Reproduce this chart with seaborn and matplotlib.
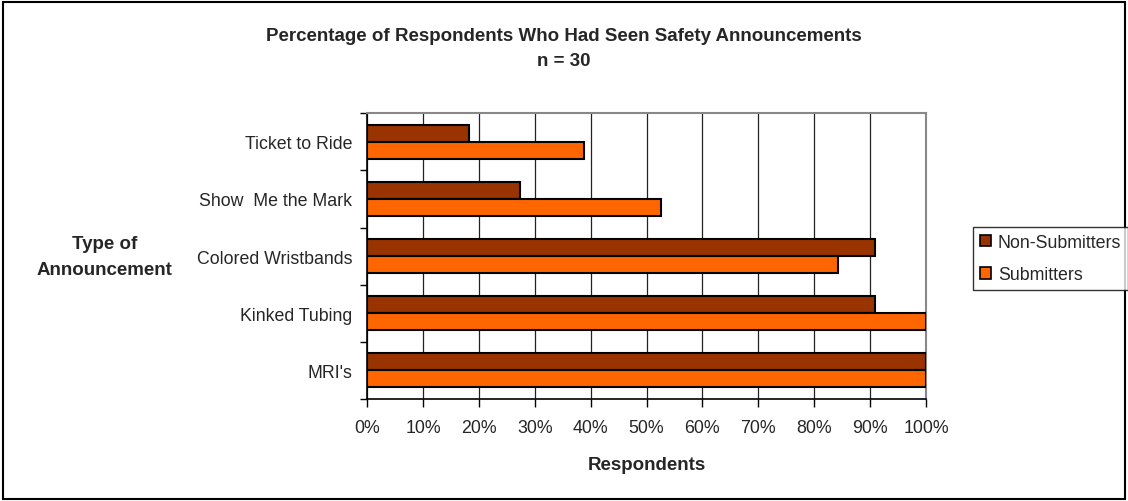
import matplotlib
matplotlib.use("Agg")
import matplotlib.pyplot as plt
import seaborn as sns
import pandas as pd
from matplotlib.patches import Rectangle, Patch
from matplotlib.ticker import FixedLocator, FuncFormatter

categories = ["Ticket to Ride", "Show  Me the Mark", "Colored Wristbands", "Kinked Tubing", "MRI's"]
non_submitters = [18.2, 27.3, 90.9, 90.9, 100.0]
submitters = [38.9, 52.6, 84.2, 100.0, 100.0]
series_names = ["Non-Submitters", "Submitters"]
colors = ["#993300", "#FF6600"]

rows = []
for c, a, b in zip(categories, non_submitters, submitters):
    rows.append({"cat": c, "series": series_names[0], "val": a})
    rows.append({"cat": c, "series": series_names[1], "val": b})
df = pd.DataFrame(rows)

sns.set_style("white")
plt.rcParams["font.family"] = ["Liberation Sans", "DejaVu Sans"]

FS = 12.8
BFS = 13.5

fig = plt.figure(figsize=(11.28, 5.02), dpi=100)
ax = fig.add_axes([0.3254, 0.204, 0.8209 - 0.3254, 0.772 - 0.204])

sns.barplot(data=df, y="cat", x="val", hue="series", order=categories,
            hue_order=series_names, palette=colors, orient="h", width=0.6,
            gap=0, edgecolor="black", linewidth=1.5, ax=ax, legend=False,
            saturation=1, errorbar=None, zorder=3)

ax.set_xlim(0, 100)
ax.set_ylim(len(categories) - 0.5, -0.5)
ax.xaxis.set_major_locator(FixedLocator(list(range(0, 101, 10))))
ax.xaxis.set_major_formatter(FuncFormatter(lambda v, p: f"{int(v)}%"))
ax.grid(axis="x", color="#222222", linewidth=0.9, zorder=0)
ax.set_axisbelow(True)

ax.set_yticks(range(len(categories)))
ax.set_yticklabels(categories)
ax.yaxis.set_minor_locator(FixedLocator([i - 0.5 for i in range(len(categories) + 1)]))
ax.tick_params(axis="y", which="major", length=0, pad=10.5, labelsize=FS)
ax.tick_params(axis="y", which="minor", length=5, width=1, color="black", left=True)
ax.tick_params(axis="x", which="major", length=6, width=1, color="black", bottom=True,
               direction="out", pad=9, labelsize=FS)

for s in ["left", "bottom"]:
    ax.spines[s].set_color("black")
    ax.spines[s].set_linewidth(1.2)
for s in ["top", "right"]:
    ax.spines[s].set_color("#888888")
    ax.spines[s].set_linewidth(1.5)
    ax.spines[s].set_visible(True)

ax.set_xlabel("Respondents", fontsize=BFS, fontweight="bold", labelpad=14)
ax.set_ylabel("")

fig.text(0.5, 0.928, "Percentage of Respondents Who Had Seen Safety Announcements",
         ha="center", va="center", fontsize=BFS, fontweight="bold")
fig.text(0.5, 0.878, "n = 30", ha="center", va="center", fontsize=BFS, fontweight="bold")
fig.text(0.093, 0.487, "Type of\nAnnouncement", ha="center", va="center",
         fontsize=BFS, fontweight="bold", linespacing=1.65)

handles = [Patch(facecolor=c, edgecolor="black", linewidth=1.2) for c in colors]
leg = fig.legend(handles, series_names, loc="upper left", bbox_to_anchor=(0.8625, 0.546),
                 frameon=True, fancybox=False, edgecolor="black", fontsize=FS,
                 handlelength=0.6, handleheight=0.6, handletextpad=0.4,
                 borderpad=0.4, labelspacing=0.85, borderaxespad=0)
leg.get_frame().set_linewidth(1)

fig.patches.append(Rectangle((0.003, 0.004), 0.994, 0.99, transform=fig.transFigure,
                             fill=False, edgecolor="black", linewidth=1.5))

fig.savefig("out.png", dpi=100, facecolor="white")
